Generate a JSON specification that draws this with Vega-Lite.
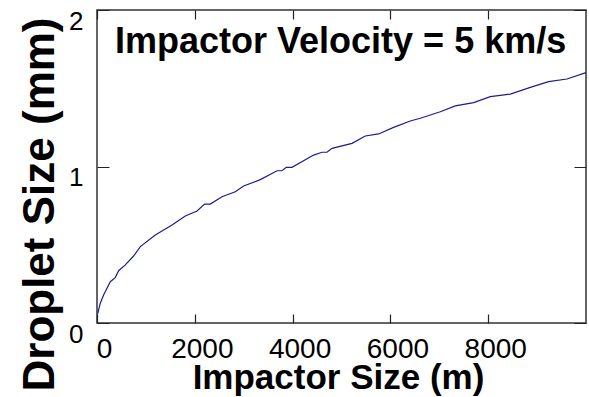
{
  "$schema": "https://vega.github.io/schema/vega-lite/v6.json",
  "width": 489,
  "height": 313,
  "autosize": {"type": "none"},
  "padding": {"left": 97, "top": 10, "right": 3, "bottom": 74},
  "background": "white",
  "title": {
    "text": "Impactor Velocity = 5 km/s",
    "anchor": "start",
    "frame": "group",
    "dx": 18,
    "offset": -81,
    "baseline": "alphabetic",
    "font": "Liberation Sans",
    "fontSize": 36,
    "fontWeight": "bold",
    "color": "#000000"
  },
  "data": {
    "values": [
      {"impactor_size": 15, "droplet_size": 0.06},
      {"impactor_size": 67, "droplet_size": 0.126},
      {"impactor_size": 135, "droplet_size": 0.179},
      {"impactor_size": 272, "droplet_size": 0.264},
      {"impactor_size": 374, "droplet_size": 0.29},
      {"impactor_size": 442, "droplet_size": 0.334},
      {"impactor_size": 579, "droplet_size": 0.371},
      {"impactor_size": 749, "droplet_size": 0.428},
      {"impactor_size": 886, "droplet_size": 0.488},
      {"impactor_size": 1192, "droplet_size": 0.562},
      {"impactor_size": 1534, "droplet_size": 0.626},
      {"impactor_size": 1806, "droplet_size": 0.684},
      {"impactor_size": 2045, "droplet_size": 0.716},
      {"impactor_size": 2201, "droplet_size": 0.76},
      {"impactor_size": 2317, "droplet_size": 0.76},
      {"impactor_size": 2556, "droplet_size": 0.807},
      {"impactor_size": 2828, "droplet_size": 0.839},
      {"impactor_size": 2998, "droplet_size": 0.875},
      {"impactor_size": 3340, "droplet_size": 0.916},
      {"impactor_size": 3681, "droplet_size": 0.973},
      {"impactor_size": 3783, "droplet_size": 0.973},
      {"impactor_size": 3871, "droplet_size": 0.995},
      {"impactor_size": 3988, "droplet_size": 0.995},
      {"impactor_size": 4430, "droplet_size": 1.073},
      {"impactor_size": 4601, "droplet_size": 1.091},
      {"impactor_size": 4703, "droplet_size": 1.091},
      {"impactor_size": 4806, "droplet_size": 1.116},
      {"impactor_size": 5215, "droplet_size": 1.148},
      {"impactor_size": 5487, "droplet_size": 1.195},
      {"impactor_size": 5759, "droplet_size": 1.208},
      {"impactor_size": 6065, "droplet_size": 1.25},
      {"impactor_size": 6407, "droplet_size": 1.291},
      {"impactor_size": 6611, "droplet_size": 1.308},
      {"impactor_size": 6816, "droplet_size": 1.329},
      {"impactor_size": 7021, "droplet_size": 1.35},
      {"impactor_size": 7327, "droplet_size": 1.387},
      {"impactor_size": 7702, "droplet_size": 1.408},
      {"impactor_size": 8043, "droplet_size": 1.446},
      {"impactor_size": 8452, "droplet_size": 1.463},
      {"impactor_size": 8861, "droplet_size": 1.506},
      {"impactor_size": 9236, "droplet_size": 1.542},
      {"impactor_size": 9611, "droplet_size": 1.559},
      {"impactor_size": 10000, "droplet_size": 1.6}
    ]
  },
  "mark": {"type": "line", "color": "#1c1c96", "strokeWidth": 1.2},
  "encoding": {
    "x": {
      "field": "impactor_size",
      "type": "quantitative",
      "scale": {"domain": [0, 10000], "nice": false, "zero": false},
      "axis": {
        "orient": "bottom",
        "values": [0, 2000, 4000, 6000, 8000],
        "format": "d",
        "domain": false,
        "ticks": false,
        "grid": true,
        "gridColor": "#222222",
        "gridOpacity": 1,
        "gridWidth": 1.2,
        "gridDash": [9, 295, 9, 1000],
        "labelPadding": 12,
        "labelOffset": 7,
        "labelFlush": false,
        "labelOverlap": false,
        "labelFont": "Liberation Sans",
        "labelFontSize": 28,
        "labelColor": "#000000",
        "title": "Impactor Size (m)",
        "titleFont": "Liberation Sans",
        "titleFontSize": 35,
        "titleFontWeight": "bold",
        "titleColor": "#000000",
        "titleBaseline": "alphabetic",
        "titleAlign": "center",
        "titleX": 241,
        "titleY": 65
      }
    },
    "y": {
      "field": "droplet_size",
      "type": "quantitative",
      "scale": {"domain": [0, 2], "nice": false},
      "axis": {
        "orient": "left",
        "values": [0, 1, 2],
        "labelExpr": "format(datum.value, '.0f')",
        "domain": false,
        "ticks": false,
        "grid": true,
        "gridColor": "#222222",
        "gridOpacity": 1,
        "gridWidth": 1.2,
        "gridDash": [12, 465, 12, 1000],
        "labelPadding": 14,
        "labelBaseline": "top",
        "labelOffset": -2,
        "labelFlush": false,
        "labelOverlap": false,
        "labelFont": "Liberation Sans",
        "labelFontSize": 26,
        "labelColor": "#000000",
        "title": "Droplet Size (mm)",
        "titleFont": "Liberation Sans",
        "titleFontSize": 44,
        "titleFontWeight": "bold",
        "titleColor": "#000000",
        "titleBaseline": "alphabetic",
        "titleAlign": "center",
        "titleAngle": 270,
        "titleX": -44,
        "titleY": 194
      }
    }
  },
  "config": {
    "view": {"stroke": "#333333", "strokeWidth": 1.5}
  }
}
